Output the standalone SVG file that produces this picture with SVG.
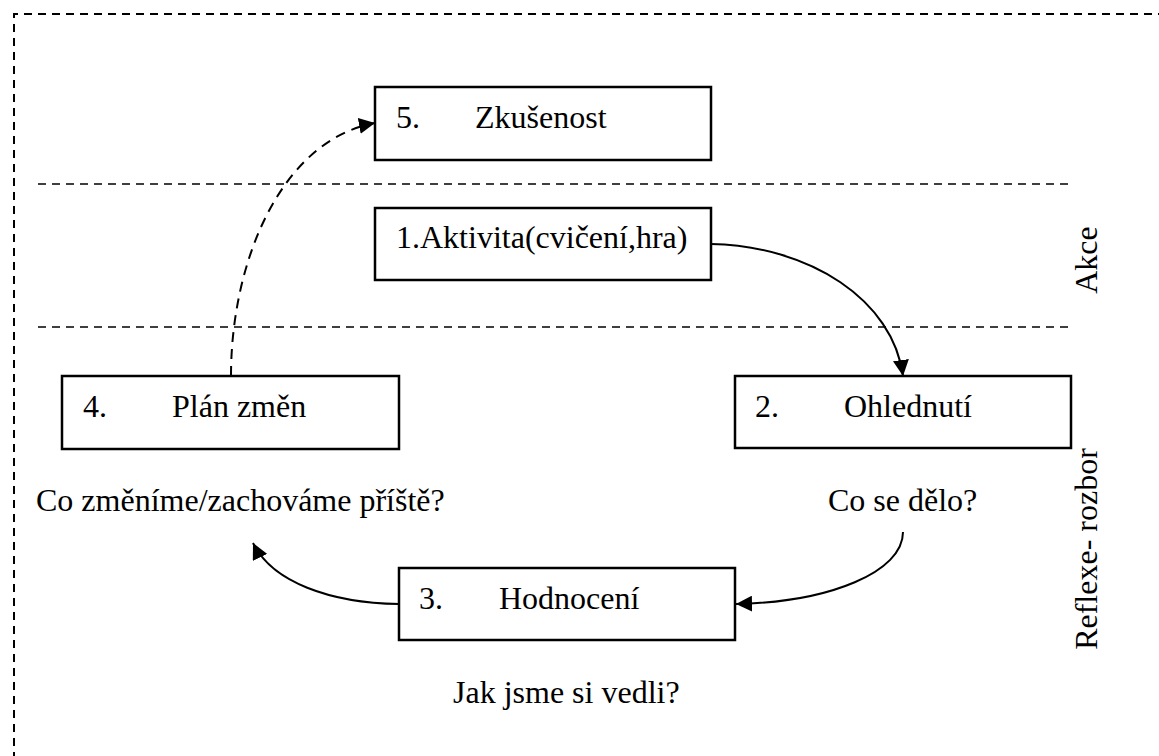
<svg xmlns="http://www.w3.org/2000/svg" width="1159" height="756" viewBox="0 0 1159 756">
<style>
  text { font-family: "Liberation Serif", "Times New Roman", serif; font-size: 32px; fill: #000; }
  .box { fill: #fff; stroke: #000; stroke-width: 2.5; }
  .sep { fill: none; stroke: #000; stroke-width: 1.5; stroke-dasharray: 8 6; }
  .border { fill: none; stroke: #000; stroke-width: 2; stroke-dasharray: 8 6; }
  .conn { fill: none; stroke: #000; stroke-width: 2; }
  .dash { stroke-dasharray: 10 7; }
</style>
<defs>
  <marker id="arr" markerUnits="userSpaceOnUse" markerWidth="17" markerHeight="16" refX="16" refY="8" orient="auto">
    <path d="M0,0 L16,8 L0,16 Z" fill="#000"/>
  </marker>
</defs>
<rect width="1159" height="756" fill="#fff"/>
<path class="border" d="M14,760 L14,14 L1165,14"/>
<line class="sep" x1="38" y1="184" x2="1068" y2="184"/>
<line class="sep" x1="38" y1="327" x2="1068" y2="327"/>
<g id="connectors">
  <path class="conn dash" d="M231,376 C231,260 282,140 375,123" marker-end="url(#arr)"/>
  <path class="conn" d="M711,244 C810,246 893,300 903,376" marker-end="url(#arr)"/>
  <path class="conn" d="M903,532 C903,572 830,602 736,604" marker-end="url(#arr)"/>
  <path class="conn" d="M399,604 C330,603 272,582 253,543" marker-end="url(#arr)"/>
</g>
<g id="node5">
  <rect class="box" x="375" y="87" width="336" height="73"/>
  <text x="396" y="128">5.</text>
  <text x="475" y="128">Zkušenost</text>
</g>
<g id="node1">
  <rect class="box" x="375" y="208" width="336" height="72"/>
  <text x="396" y="248">1.Aktivita(cvičení,hra)</text>
</g>
<g id="node4">
  <rect class="box" x="62" y="376" width="337" height="73"/>
  <text x="83" y="417">4.</text>
  <text x="172" y="417">Plán změn</text>
</g>
<g id="node2">
  <rect class="box" x="735" y="376" width="336" height="72"/>
  <text x="755" y="417">2.</text>
  <text x="844" y="417">Ohlednutí</text>
</g>
<g id="node3">
  <rect class="box" x="399" y="568" width="336" height="72"/>
  <text x="419" y="609">3.</text>
  <text x="499" y="609">Hodnocení</text>
</g>
<g id="labels">
  <text x="36" y="511">Co změníme/zachováme příště?</text>
  <text x="828" y="511">Co se dělo?</text>
  <text x="453" y="703">Jak jsme si vedli?</text>
  <text transform="translate(1097,260) rotate(-90)" text-anchor="middle">Akce</text>
  <text transform="translate(1097,549) rotate(-90)" text-anchor="middle">Reflexe- rozbor</text>
</g>
</svg>
